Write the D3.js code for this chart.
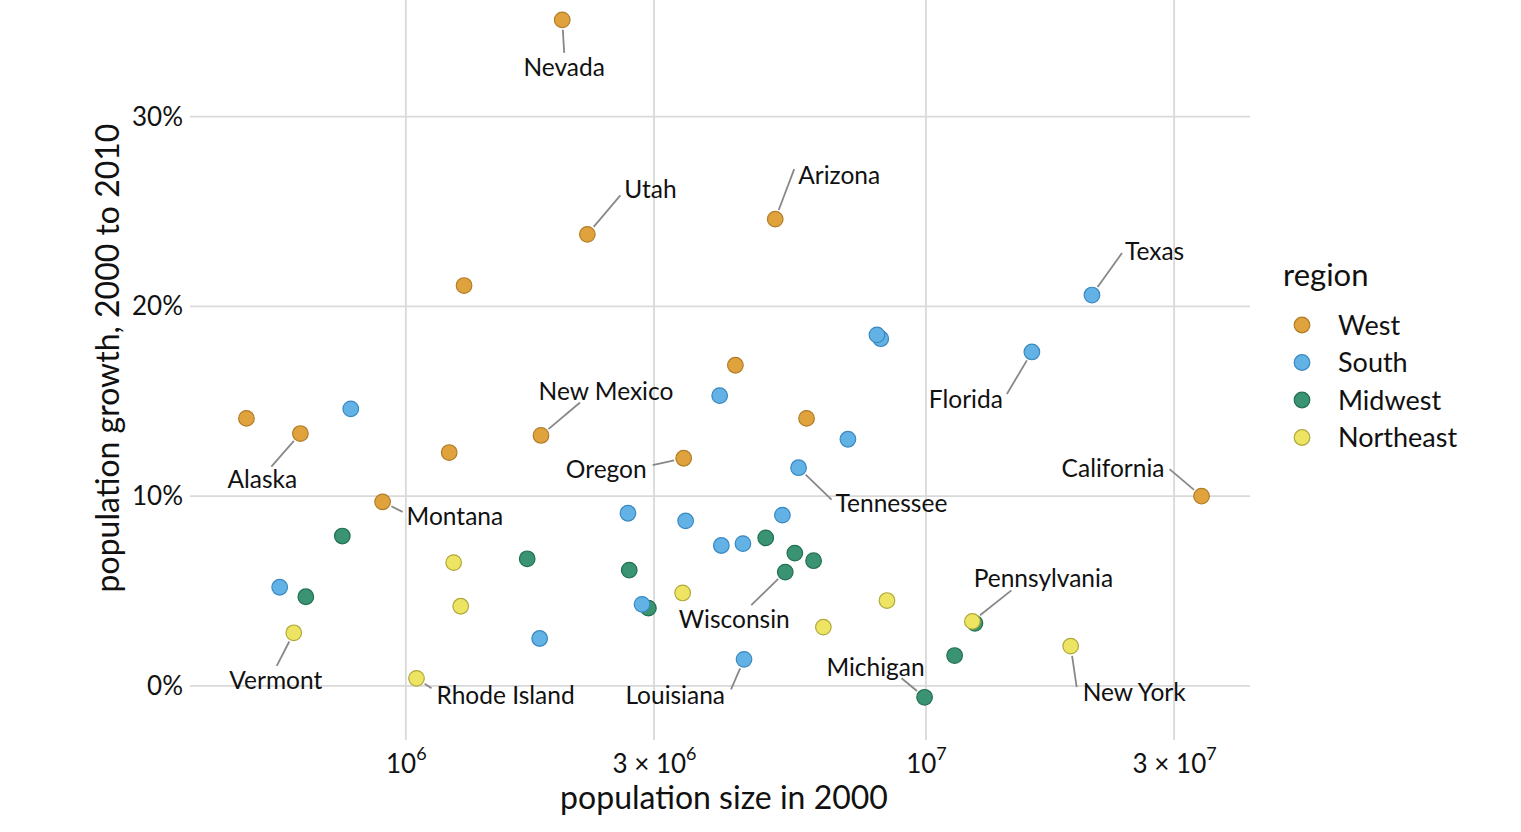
<!DOCTYPE html>
<html>
<head>
<meta charset="utf-8">
<script src="https://cdn.jsdelivr.net/npm/d3@7"></script>
<style>
  html, body { margin: 0; padding: 0; background: #fff; }
  svg { display: block; }
  text { font-family: Lato, "Open Sans", sans-serif; fill: #111; }
</style>
</head>
<body>
<svg id="chart" width="1521" height="832"></svg>
<script>
// ---------- data ----------
const states = ["Alabama","Alaska","Arizona","Arkansas","California","Colorado","Connecticut","Delaware","District of Columbia","Florida","Georgia","Hawaii","Idaho","Illinois","Indiana","Iowa","Kansas","Kentucky","Louisiana","Maine","Maryland","Massachusetts","Michigan","Minnesota","Mississippi","Missouri","Montana","Nebraska","Nevada","New Hampshire","New Jersey","New Mexico","New York","North Carolina","North Dakota","Ohio","Oklahoma","Oregon","Pennsylvania","Rhode Island","South Carolina","South Dakota","Tennessee","Texas","Utah","Vermont","Virginia","Washington","West Virginia","Wisconsin","Wyoming"];
const pop2000 = [4447100,626932,5130632,2673400,33871648,4301261,3405565,783600,572059,15982378,8186453,1211537,1293953,12419293,6080485,2926324,2688418,4041769,4468976,1274923,5296486,6349097,9938444,4919479,2844658,5595211,902195,1711263,1998257,1235786,8414350,1819046,18976457,8049313,642200,11353140,3450654,3421399,12281054,1048319,4012012,754844,5689283,20851820,2233169,608827,7078515,5894121,1808344,5363675,493782];
const growthPct = [7.5,13.3,24.6,9.1,10.0,16.9,4.9,14.6,5.2,17.6,18.3,12.3,21.1,3.3,6.6,4.1,6.1,7.4,1.4,4.2,9.0,3.1,-0.6,7.8,4.3,7.0,9.7,6.7,35.1,6.5,4.5,13.2,2.1,18.5,4.7,1.6,8.7,12.0,3.4,0.4,15.3,7.9,11.5,20.6,23.8,2.8,13.0,14.1,2.5,6.0,14.1];
const regionOf = ["South","West","West","South","West","West","Northeast","South","South","South","South","West","West","Midwest","Midwest","Midwest","Midwest","South","South","Northeast","South","Northeast","Midwest","Midwest","South","Midwest","West","Midwest","West","Northeast","Northeast","West","Northeast","South","Midwest","Midwest","South","West","Northeast","Northeast","South","Midwest","South","South","West","Northeast","South","West","South","Midwest","West"];

const regions = ["West","South","Midwest","Northeast"];
const xTicks = [1e6, 3e6, 1e7, 3e7];
const yTicks = [0, 10, 20, 30];

const labeled = ["Nevada","Utah","Arizona","Texas","Florida","California","New Mexico","Oregon","Alaska","Montana","Tennessee","Pennsylvania","Wisconsin","Vermont","Rhode Island","Louisiana","Michigan","New York"];

// ---------- layout / style ----------
const fills   = {West:"#E0A23C", South:"#62B2E6", Midwest:"#3A9474", Northeast:"#EDE464"};
const strokes = {West:"#B07D28", South:"#3A88C0", Midwest:"#21704F", Northeast:"#B0A838"};
// label placement offsets (px, relative to the point): text anchor point, anchor, segment end
const labelLayout = {
  "Nevada":       {tx:2,   ty:47,  a:"middle", lx:2,   ly:33},
  "Utah":         {tx:37,  ty:-45, a:"start",  lx:33,  ly:-39},
  "Arizona":      {tx:23,  ty:-44, a:"start",  lx:19,  ly:-50},
  "Texas":        {tx:33,  ty:-44, a:"start",  lx:30,  ly:-42},
  "Florida":      {tx:-29, ty:47,  a:"end",    lx:-25, ly:42},
  "California":   {tx:-37, ty:-28, a:"end",    lx:-32, ly:-27},
  "New Mexico":   {tx:65,  ty:-44, a:"middle", lx:39,  ly:-33},
  "Oregon":       {tx:-37, ty:11,  a:"end",    lx:-31, ly:7},
  "Alaska":       {tx:-38, ty:46,  a:"middle", lx:-29, ly:33},
  "Montana":      {tx:24,  ty:14,  a:"start",  lx:20,  ly:10},
  "Tennessee":    {tx:37,  ty:35,  a:"start",  lx:33,  ly:32},
  "Pennsylvania": {tx:71,  ty:-43, a:"middle", lx:39,  ly:-31},
  "Wisconsin":    {tx:-51, ty:47,  a:"middle", lx:-34, ly:33},
  "Vermont":      {tx:-18, ty:47,  a:"middle", lx:-17, ly:33},
  "Rhode Island": {tx:20,  ty:17,  a:"start",  lx:15,  ly:10},
  "Louisiana":    {tx:-19, ty:36,  a:"end",    lx:-13, ly:30},
  "Michigan":     {tx:-49, ty:-30, a:"middle", lx:-23, ly:-19},
  "New York":     {tx:12,  ty:46,  a:"start",  lx:6,   ly:41}
};

const data = states.map((s,i)=>({state:s, pop:pop2000[i], g:growthPct[i], region:regionOf[i]}));

const svg = d3.select("#chart");
const panel = {left:190, right:1250, top:0, bottom:740};

const x = d3.scaleLog().domain([Math.pow(10,5.585), Math.pow(10,7.623)]).range([panel.left, panel.right]);
const y = d3.scaleLinear().domain([-2.85, 36.15]).range([panel.bottom, panel.top]);

const grid = "#d9d9d9";
// grid
svg.append("g").selectAll("line").data(xTicks).join("line")
  .attr("x1", d=>x(d)).attr("x2", d=>x(d)).attr("y1", panel.top).attr("y2", panel.bottom)
  .attr("stroke", grid).attr("stroke-width", 1.8);
svg.append("g").selectAll("line").data(yTicks).join("line")
  .attr("x1", panel.left).attr("x2", panel.right).attr("y1", d=>y(d)).attr("y2", d=>y(d))
  .attr("stroke", grid).attr("stroke-width", 1.8);

// y axis
const yAxis = svg.append("g").attr("transform", `translate(${panel.left},0)`)
  .call(d3.axisLeft(y).tickValues(yTicks).tickFormat(d=>d+"%").tickSize(0).tickPadding(7));
yAxis.select(".domain").remove();
yAxis.selectAll("text").attr("font-family", "Lato, sans-serif").attr("font-size", 26).attr("fill", "#1a1a1a");

// x axis
const xAxis = svg.append("g").attr("transform", `translate(0,${panel.bottom})`)
  .call(d3.axisBottom(x).tickValues(xTicks).tickFormat(()=>"").tickSize(0));
xAxis.select(".domain").remove();
xAxis.selectAll(".tick text").each(function(d){
  const t = d3.select(this);
  const exp = Math.floor(Math.log10(d) + 1e-9);
  const mant = Math.round(d / Math.pow(10, exp));
  t.text(null).attr("y", 33).attr("dy", null)
   .attr("font-family", "Lato, sans-serif").attr("font-size", 26).attr("fill", "#1a1a1a");
  t.append("tspan").text((mant === 1 ? "" : mant + " \u00D7 ") + "10");
  t.append("tspan").attr("font-size", 18).attr("dy", -13).text(exp);
});

// axis titles
svg.append("text").attr("x", (panel.left+panel.right)/2 + 4).attr("y", 809)
  .attr("text-anchor", "middle").attr("font-size", 32).text("population size in 2000");
svg.append("text").attr("transform", "translate(119,358) rotate(-90)")
  .attr("text-anchor", "middle").attr("font-size", 32).text("population growth, 2000 to 2010");

// label segments
const lab = data.filter(d => labeled.includes(d.state));
const r = 7.8;
svg.append("g").selectAll("line").data(lab).join("line")
  .each(function(d){
    const L = labelLayout[d.state];
    const px = x(d.pop), py = y(d.g);
    const len = Math.hypot(L.lx, L.ly);
    const sx = px + L.lx/len*(r+2), sy = py + L.ly/len*(r+2);
    d3.select(this).attr("x1", sx).attr("y1", sy).attr("x2", px+L.lx).attr("y2", py+L.ly);
  })
  .attr("stroke", "#888").attr("stroke-width", 1.8);

// points
svg.append("g").selectAll("circle").data(data).join("circle")
  .attr("cx", d=>x(d.pop)).attr("cy", d=>y(d.g)).attr("r", r)
  .attr("fill", d=>fills[d.region]).attr("stroke", d=>strokes[d.region]).attr("stroke-width", 1.2);

// labels
svg.append("g").selectAll("text").data(lab).join("text")
  .attr("x", d=>x(d.pop) + labelLayout[d.state].tx)
  .attr("y", d=>y(d.g) + labelLayout[d.state].ty)
  .attr("dy", "0.36em")
  .attr("text-anchor", d=>labelLayout[d.state].a)
  .attr("font-size", 24.5)
  .text(d=>d.state);

// legend
const lg = svg.append("g");
lg.append("text").attr("x", 1283).attr("y", 286).attr("font-size", 31).text("region");
const items = lg.selectAll("g.item").data(regions).join("g").attr("class","item")
  .attr("transform", (d,i)=>`translate(1302,${325 + i*37.5})`);
items.append("circle").attr("r", r).attr("fill", d=>fills[d]).attr("stroke", d=>strokes[d]).attr("stroke-width", 1.2);
items.append("text").attr("x", 36).attr("dy", "0.36em").attr("font-size", 27).text(d=>d);
</script>
</body>
</html>
